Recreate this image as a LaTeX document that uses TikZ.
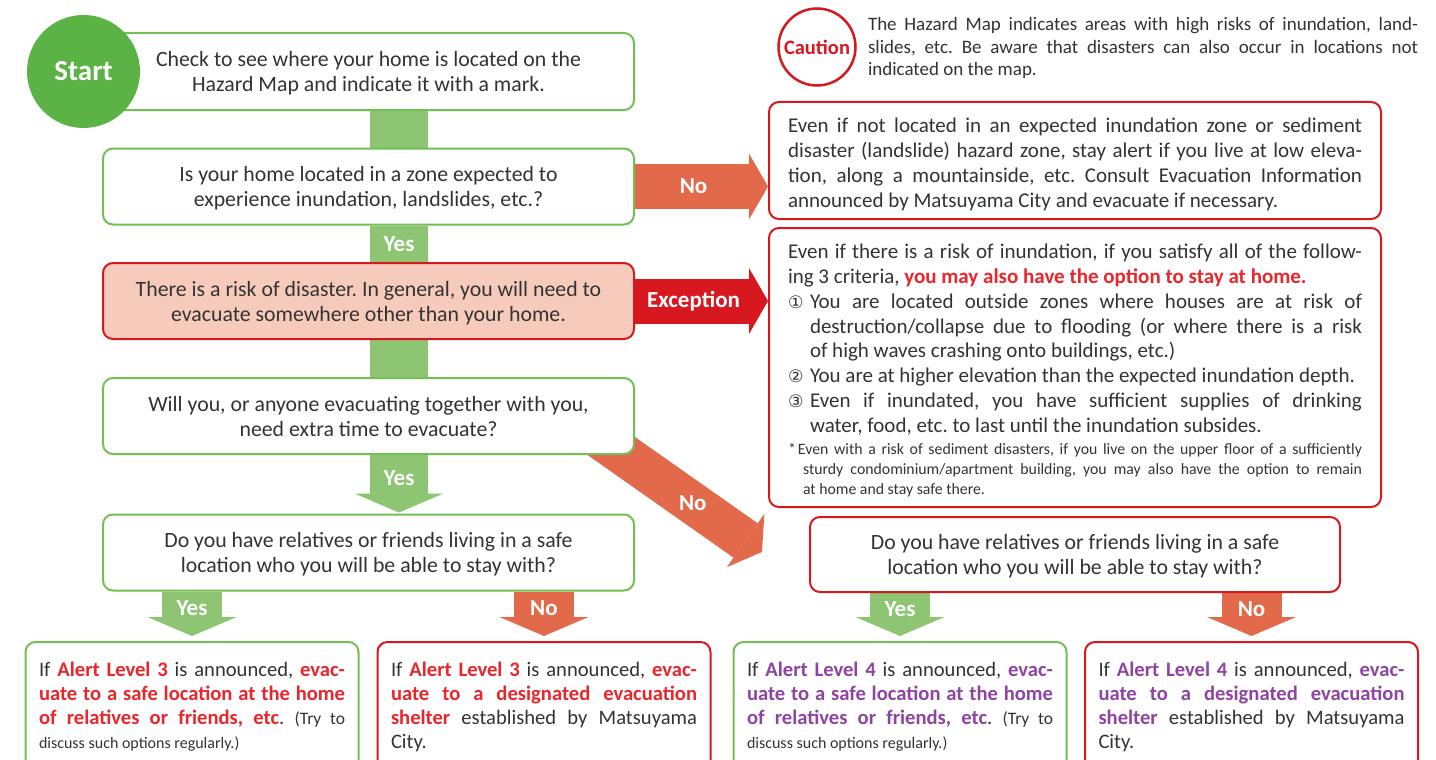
\documentclass[tikz,border=0pt]{standalone}
\usepackage{fontspec}
\setmainfont{Carlito}
\newfontfamily\digitfont[Scale=0.82]{DejaVu Sans}
\usetikzlibrary{arrows.meta,backgrounds,calc,positioning}

\definecolor{startgreen}{HTML}{5BB346}
\definecolor{boxgreen}{HTML}{72BF55}
\definecolor{bargreen}{HTML}{8DC572}
\definecolor{barorange}{HTML}{E3694B}
\definecolor{alertred}{HTML}{D7191F}
\definecolor{textred}{HTML}{E8262C}
\definecolor{riskpink}{HTML}{F6CBBB}
\definecolor{alertpurple}{HTML}{8E44A0}
\definecolor{bodytext}{HTML}{333333}

\newcommand{\redbold}[1]{\textcolor{textred}{\bfseries #1}}
\newcommand{\purbold}[1]{\textcolor{alertpurple}{\bfseries #1}}
\newcommand{\critline}[1]{\par\hangindent=22pt\hangafter=1\makebox[22pt][l]{\digitfont #1}}

\begin{document}
\frenchspacing
\begin{tikzpicture}[x=1pt,y=-1pt,
    boxtext/.style={text=bodytext,font=\fontsize{21.8}{25}\selectfont},
    greenbox/.style={boxtext,draw=boxgreen,line width=2pt,rounded corners=10pt,fill=white,inner sep=0pt,align=center,text depth=0pt},
    redbox/.style={greenbox,draw=alertred},
    midbox/.style={minimum width=531pt,minimum height=76pt},
    sidebox/.style={minimum width=612pt,text width=574pt,align=justify,text depth=,font=\fontsize{21}{24.8}\selectfont},
    endbox/.style={minimum width=333pt,minimum height=130pt,text width=306pt,align=justify,text depth=,font=\fontsize{20.6}{24}\selectfont},
    startdot/.style={circle,fill=startgreen,minimum size=113pt,inner sep=0pt,text=white,font=\fontsize{29}{29}\bfseries\selectfont},
    cautionring/.style={circle,draw=alertred,line width=2.5pt,fill=white,minimum size=77pt,inner sep=0pt,text=alertred,font=\fontsize{20.5}{20.5}\bfseries\selectfont},
    notetext/.style={text=bodytext,text width=550pt,align=justify,inner sep=0pt,font=\fontsize{19}{22.5}\selectfont},
    tagtext/.style={text=white,font=\fontsize{23}{23}\bfseries\selectfont},
    greenbar/.style={draw=bargreen,line width=58pt},
    orangebar/.style={draw=barorange,line width=45pt},
    redbar/.style={draw=alertred,line width=45pt},
    blocktip/.style={-{Triangle[width=#1,length=19pt,line width=0pt]}}
  ]
    \useasboundingbox (0,0) rectangle (1436,760);
    \path
        (368.5,71.5)  node[greenbox,midbox,minimum height=77pt] (check) {Check to see where your home is located on the\\Hazard Map and indicate it with a mark.}
        (83.5,71.5)   node[startdot] (start) {Start}
        (368.5,186.5) node[greenbox,midbox] (zone) {Is your home located in a zone expected to\\experience inundation, landslides, etc.?}
        (368.5,301)   node[redbox,midbox,fill=riskpink] (risk) {There is a risk of disaster. In general, you will need to\\evacuate somewhere other than your home.}
        (368.5,416)   node[greenbox,midbox] (extra) {Will you, or anyone evacuating together with you,\\need extra time to evacuate?}
        (368.5,552.5) node[greenbox,midbox] (stay3) {Do you have relatives or friends living in a safe\\location who you will be able to stay with?}
        (817,47)      node[cautionring] (caution) {Caution}
        (1143,48)     node[notetext] (note) {The Hazard Map indicates areas with high risks of inundation, land-\linebreak slides, etc. Be aware that disasters can also occur in locations not\linebreak indicated on the map.}
        (1075,160.5)  node[redbox,sidebox,minimum height=117pt] (outside) {Even if not located in an expected inundation zone or sediment\linebreak disaster (landslide) hazard zone, stay alert if you live at low eleva-\linebreak tion, along a mountainside, etc. Consult Evacuation Information\linebreak announced by Matsuyama City and evacuate if necessary.\par\vspace{-8pt}}
        (1075,367.5)  node[redbox,sidebox,minimum height=279pt] (option) {Even if there is a risk of inundation, if you satisfy all of the follow-\linebreak ing 3 criteria, \redbold{you may also have the option to stay at home.}
            \critline{①}You are located outside zones where houses are at risk of\linebreak destruction/collapse due to flooding (or where there is a risk\linebreak of high waves crashing onto buildings, etc.)
            \critline{②}You are at higher elevation than the expected inundation depth.
            \critline{③}Even if inundated, you have sufficient supplies of drinking\linebreak water, food, etc. to last until the inundation subsides.\par\vspace{2pt}
            {\fontsize{15.8}{20}\selectfont\hangindent=15pt\hangafter=1\makebox[10pt][l]{*}Even with a risk of sediment disasters, if you live on the upper floor of a sufficiently\linebreak sturdy condominium/apartment building, you may also have the option to remain\linebreak at home and stay safe there.\par}\vspace{-6pt}}
        (1075,554.5)  node[redbox,minimum width=530pt,minimum height=75pt] (stay4) {Do you have relatives or friends living in a safe\\location who you will be able to stay with?}
        (192,707)     node[greenbox,endbox] (home3) {If \redbold{Alert Level 3} is announced, \redbold{evac-}\linebreak \redbold{uate to a safe location at the home}\linebreak \redbold{of relatives or friends, etc}. {\fontsize{17.5}{24}\selectfont(Try to}\linebreak {\fontsize{16}{24}\selectfont discuss such options regularly.)}}
        (544,707)     node[redbox,endbox] (shelter3) {If \redbold{Alert Level 3} is announced, \redbold{evac-}\linebreak \redbold{uate to a designated evacuation}\linebreak \redbold{shelter} established by Matsuyama\linebreak City.}
        (900,707)     node[greenbox,endbox] (home4) {If \purbold{Alert Level 4} is announced, \purbold{evac-}\linebreak \purbold{uate to a safe location at the home}\linebreak \purbold{of relatives or friends, etc}. {\fontsize{17.5}{24}\selectfont(Try to}\linebreak {\fontsize{16}{24}\selectfont discuss such options regularly.)}}
        (1251.5,707)  node[redbox,endbox] (shelter4) {If \purbold{Alert Level 4} is announced, \purbold{evac-}\linebreak \purbold{uate to a designated evacuation}\linebreak \purbold{shelter} established by Matsuyama\linebreak City.}
        ;
    \coordinate (nostart) at (580,424);
    \coordinate (notip) at (762,552);
    \begin{scope}[on background layer]
        \fill[white] (0,0) rectangle (1436,760);
        \draw[greenbar] ([xshift=30.5pt]check.south) -- ([xshift=30.5pt]zone.north);
        \draw[greenbar] ([xshift=30.5pt]zone.south) -- ([xshift=30.5pt]risk.north) node[midway,tagtext] {Yes};
        \draw[greenbar] ([xshift=30.5pt]risk.south) -- ([xshift=30.5pt]extra.north);
        \draw[greenbar,blocktip=89pt] ([xshift=30.5pt]extra.south) -- ([xshift=30.5pt,yshift=1pt]stay3.north) node[pos=.4,tagtext] {Yes};
        \draw[orangebar,blocktip=66pt] (zone.east) -- (zone.east -| outside.west) node[pos=.44,tagtext] {No};
        \draw[redbar,blocktip=66pt] (risk.east) -- (risk.east -| option.west) node[pos=.44,tagtext] {Exception};
        \draw[orangebar,line width=42pt,-{Triangle[width=65pt,length=20pt,line width=0pt]}] (nostart) -- (notip) node[pos=.62,tagtext] {No};
        \draw[greenbar,line width=60pt,blocktip=89pt] (stay3.south -| home3.north) -- ([yshift=5pt]home3.north) node[pos=.38,tagtext] {Yes};
        \draw[orangebar,line width=60pt,blocktip=89pt] (stay3.south -| shelter3.north) -- ([yshift=5pt]shelter3.north) node[pos=.38,tagtext] {No};
        \draw[greenbar,line width=60pt,blocktip=89pt] (stay4.south -| home4.north) -- ([yshift=5pt]home4.north) node[pos=.38,tagtext] {Yes};
        \draw[orangebar,line width=60pt,blocktip=89pt] (stay4.south -| shelter4.north) -- ([yshift=5pt]shelter4.north) node[pos=.38,tagtext] {No};
    \end{scope}
\end{tikzpicture}
\end{document}
